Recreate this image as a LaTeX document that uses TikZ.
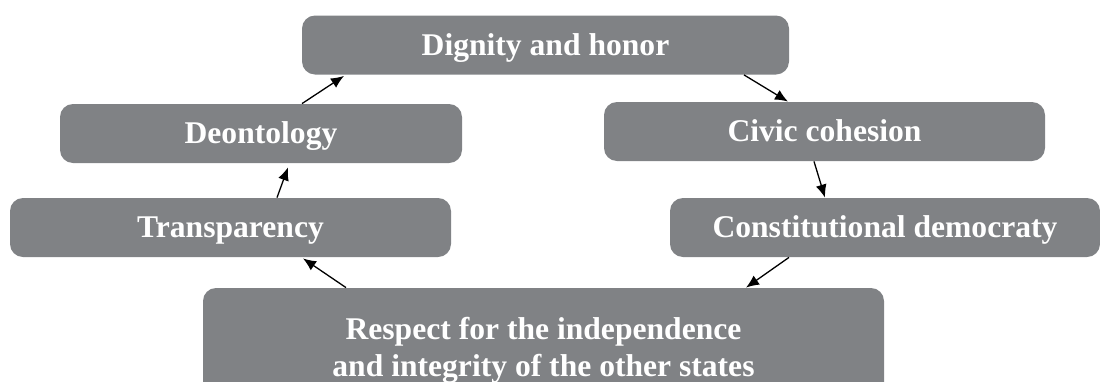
\documentclass[tikz,border=0pt]{standalone}
\usepackage{fontspec}
\setmainfont{Liberation Serif}
\usetikzlibrary{arrows.meta,calc}
\definecolor{boxgray}{RGB}{128,130,133}
\begin{document}
\begin{tikzpicture}[x=0.5pt,y=-0.5pt]
    \tikzset{item/.style={fill=boxgray,rounded corners=6.5pt,text=white,
        font=\fontsize{15.8}{18.6}\selectfont,inner sep=0pt,
        minimum height=29.5pt,text height=10.4pt,text depth=0pt},
      wide/.style={item,minimum width=340.5pt,minimum height=78pt,align=center},
      conn/.style={-{Latex[length=6.5pt,width=5.5pt]},line width=0.65pt}}
    \useasboundingbox (0,0) rectangle (1100,381);
    \clip (0,0) rectangle (1100,381);

    \node[item,minimum width=243.5pt] (dig) at (545.5,45) {\bf Dignity and honor};
    \node[item,minimum width=201pt] (deon) at (261,133.5) {\bf Deontology};
    \node[item,minimum width=220.5pt] (civic) at (824.5,131.5) {\bf Civic cohesion};
    \node[item,minimum width=220.5pt] (trans) at (230.5,227.5) {\bf Transparency};
    \node[item,minimum width=215pt] (const) at (885,227.5) {\bf Constitutional democraty};
    \node[wide] (resp) at (543.5,366)
    {\bf Respect for the independence\\ \bf and integrity of the other states};

    \draw[conn] ($(deon.north)+(41,0)$) -- ($(dig.south)+(-201.5,1)$);
    \draw[conn] ($(trans.north)+(46.5,0)$) -- ($(deon.south)+(27,4)$);
    \draw[conn] ($(resp.north)+(-197.5,0)$) -- ($(trans.south)+(72.5,1)$);
    \draw[conn] ($(dig.south)+(198.5,0)$) -- ($(civic.north)+(-36.5,0)$);
    \draw[conn] ($(civic.south)+(-10.5,0)$) -- ($(const.north)+(-60,0)$);
    \draw[conn] ($(const.south)+(-96,0)$) -- ($(resp.north)+(202.5,0)$);

  \end{tikzpicture}
\end{document}
